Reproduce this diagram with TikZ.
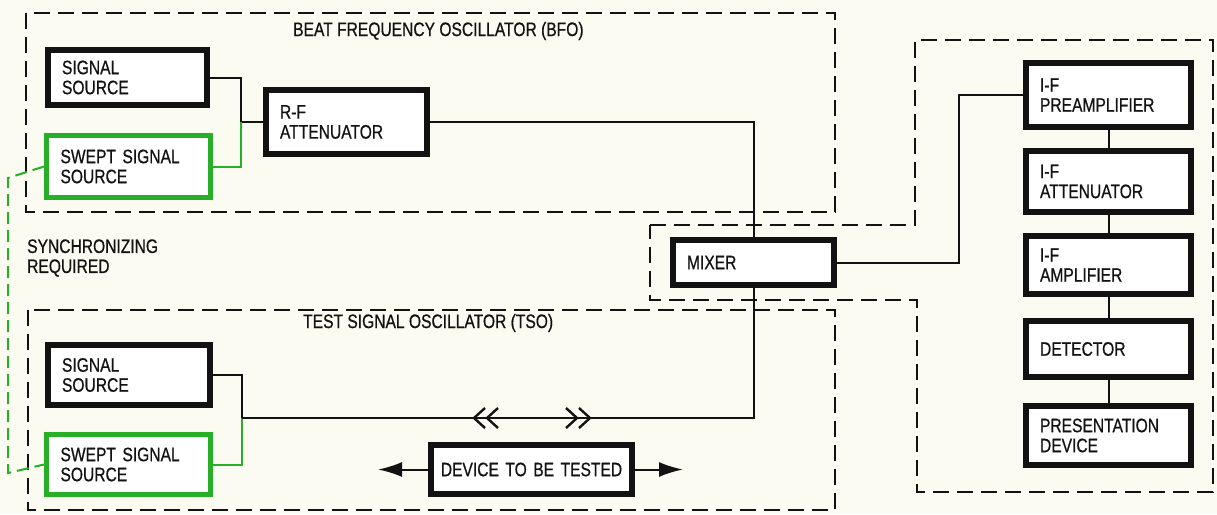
\documentclass[tikz,border=0pt]{standalone}
\usepackage{fontspec}
\setmainfont{Liberation Sans}[FakeStretch=0.8, FakeBold=0.6]
\usetikzlibrary{arrows.meta}
\definecolor{bg}{RGB}{251,251,242}
\definecolor{grn}{RGB}{40,175,40}
\definecolor{ink}{RGB}{18,18,18}
\begin{document}
\begin{tikzpicture}[x=1pt,y=-1pt,
  txt/.style={font=\fontsize{19.5}{20}\selectfont, text=ink},
  blk/.style={txt, draw=ink, line width=6pt, fill=white, inner xsep=14pt, inner ysep=0pt, align=left},
  gblk/.style={blk, draw=grn, line width=5pt},
  region/.style={draw=ink, line width=2pt, dash pattern=on 16pt off 8pt},
  wire/.style={draw=ink, line width=2pt},
  gwire/.style={draw=grn, line width=2pt},
  chev/.style={draw=ink, line width=2.4pt},
  sync/.style={draw=grn, line width=2pt, dash pattern=on 12pt off 6pt},
  lbl/.style={txt, inner sep=0pt, align=left},
  tip/.style={-{Latex[length=24pt,width=15pt]}}
]
\fill[bg] (0,0) rectangle (1217,514);
\useasboundingbox (0,0) rectangle (1217,514);

% regions
\draw[region] (26,13) rectangle (835,212);
\draw[region] (28,310) rectangle (835,510);
\draw[region] (650,225) -- (915,225) -- (915,40) -- (1213,40) -- (1213,492) -- (917,492) -- (917,300) -- (650,300) -- cycle;

% titles
\node[lbl, anchor=west] (bfot) at (293,31) {BEAT FREQUENCY OSCILLATOR (BFO)};
\node[lbl, anchor=west] (tsot) at (303,323) {TEST SIGNAL OSCILLATOR (TSO)};
\node[lbl, anchor=west] (syn) at (27,258) {SYNCHRONIZING\\REQUIRED};

% BFO
\node[blk, minimum width=159pt, minimum height=55pt, text width=131pt] (bsig) at (127.5,77.5) {SIGNAL\\SOURCE};
\node[gblk, minimum width=164pt, minimum height=62pt, text width=136pt] (bsw) at (128.5,166.5) {SWEPT SIGNAL\\SOURCE};
\node[blk, minimum width=161pt, minimum height=64pt, text width=133pt] (rfa) at (346.5,122) {R-F\\ATTENUATOR};

% mixer
\node[blk, minimum width=161pt, minimum height=45pt, text width=133pt] (mix) at (753.5,262.5) {MIXER};

% TSO
\node[blk, minimum width=162pt, minimum height=60pt, text width=134pt] (tsig) at (129,375) {SIGNAL\\SOURCE};
\node[gblk, minimum width=164pt, minimum height=60pt, text width=136pt] (tsw) at (128.5,464.5) {SWEPT SIGNAL\\SOURCE};
\node[blk, minimum width=201pt, minimum height=49pt, inner xsep=6pt, text width=189pt, align=center] (dut) at (531.5,469.5) {DEVICE TO BE TESTED};

% receiver column
\node[blk, minimum width=165pt, minimum height=64pt, text width=137pt] (pre) at (1108.5,95) {I-F\\PREAMPLIFIER};
\node[blk, minimum width=165pt, minimum height=61pt, text width=137pt] (ifa) at (1108.5,181.5) {I-F\\ATTENUATOR};
\node[blk, minimum width=165pt, minimum height=58pt, text width=137pt] (ifm) at (1108.5,265) {I-F\\AMPLIFIER};
\node[blk, minimum width=165pt, minimum height=56pt, text width=137pt] (det) at (1108.5,349) {DETECTOR};
\node[blk, minimum width=165pt, minimum height=59pt, text width=137pt] (pres) at (1108.5,435.5) {PRESENTATION\\DEVICE};

% BFO wiring
\coordinate (bj) at (241,122);
\draw[wire] (bsig.east) -| (bj) -- (rfa.west);
\draw[gwire] (bsw.east) -| (bj);
\draw[wire] (rfa.east) -| (mix.north);

% TSO wiring
\coordinate (tj) at (242,418);
\draw[wire] (tsig.east) -| (tj);
\draw[gwire] (tsw.east) -| (tj);
\draw[wire] (tj) -- (mix.south |- tj) -- (mix.south);
\foreach \x in {474,487} \draw[chev] (\x+11,408) -- (\x,418) -- (\x+11,428);
\foreach \x in {577,590} \draw[chev] (\x-11,408) -- (\x,418) -- (\x-11,428);

% device arrows
\coordinate (la) at (378,469.5);
\coordinate (ra) at (683,469.5);
\draw[wire, tip] (dut.west) -- (la);
\draw[wire, tip] (dut.east) -- (ra);

% mixer to receiver
\coordinate (mp) at (959,262.5);
\draw[wire] (mix.east) -- (mp) |- (pre.west);
\draw[wire] (pre.south) -- (ifa.north);
\draw[wire] (ifa.south) -- (ifm.north);
\draw[wire] (ifm.south) -- (det.north);
\draw[wire] (det.south) -- (pres.north);

% synchronization
\coordinate (s1) at (8,178);
\coordinate (s2) at (8,473);
\draw[sync] (bsw.west) -- (s1) -- (s2) -- (tsw.west);
\end{tikzpicture}
\end{document}
